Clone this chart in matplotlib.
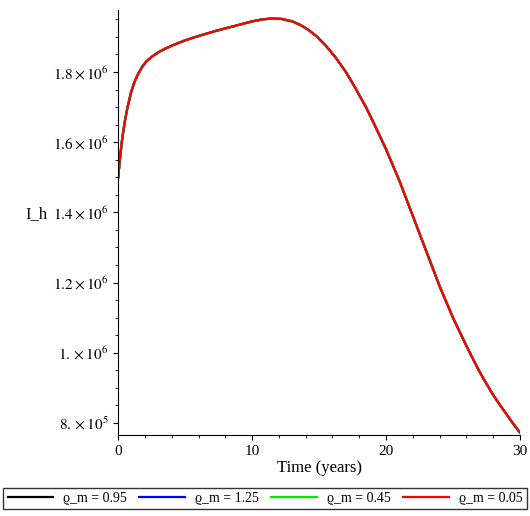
import matplotlib
matplotlib.use("Agg")
import matplotlib.pyplot as plt
from matplotlib.ticker import FixedLocator, AutoMinorLocator

# curve (all four runs lie on top of each other)
time_years = [0, 0.15, 0.3, 0.5, 0.7, 0.95, 1.2, 1.5, 1.8, 2.1, 2.5, 3.0, 3.5, 4.2, 5, 5.8, 6.5, 7.2, 8, 9, 10, 10.8, 11.5, 12.2, 13, 13.6, 14.2, 14.8,
              15.5, 16.2, 17, 17.7, 18.5, 19.2, 20, 20.5, 21, 21.5, 22, 22.5, 23, 23.5, 24, 24.5, 25, 25.5, 26, 26.5, 27, 27.5, 28, 28.5, 29, 29.5, 30]
infected = [1.50e6, 1.56e6, 1.61e6, 1.66e6, 1.70e6, 1.74e6, 1.77e6, 1.795e6, 1.815e6, 1.83e6, 1.843e6, 1.856e6, 1.866e6, 1.878e6, 1.89e6, 1.90e6,
            1.908e6, 1.916e6, 1.924e6, 1.934e6, 1.944e6, 1.950e6, 1.952e6, 1.951e6, 1.944e6, 1.934e6, 1.92e6, 1.902e6,
            1.875e6, 1.843e6, 1.80e6, 1.755e6, 1.70e6, 1.645e6, 1.58e6, 1.535e6, 1.49e6, 1.44e6, 1.39e6, 1.34e6, 1.29e6, 1.24e6, 1.19e6, 1.145e6,
            1.10e6, 1.06e6, 1.02e6, 9.82e5, 9.45e5, 9.12e5, 8.80e5, 8.52e5, 8.25e5, 7.98e5, 7.73e5]
rho_values = ["0.95", "1.25", "0.45", "0.05"]
line_colors = ["black", "blue", "#00ee00", "red"]
y_ticks = [8e5, 1e6, 1.2e6, 1.4e6, 1.6e6, 1.8e6]
y_tick_labels = [r"$8.\times10^{5}$", r"$1.\times10^{6}$", r"$1.2\times10^{6}$",
                 r"$1.4\times10^{6}$", r"$1.6\times10^{6}$", r"$1.8\times10^{6}$"]

plt.rcParams["font.family"] = ["Liberation Serif", "DejaVu Serif"]
plt.rcParams["mathtext.fontset"] = "stix"

fig = plt.figure(figsize=(5.30, 5.16), dpi=100)
axis = fig.add_axes([0.223, 0.157, 0.758, 0.824])

for rho, color in zip(rho_values, line_colors):
    axis.plot(time_years, infected, color=color, lw=1.6, label=f"ϱ_m = {rho}")

axis.set_xlim(0, 30)
axis.set_ylim(7.66e5, 1.977e6)
axis.set_xticks([0, 10, 20, 30])
axis.yaxis.set_major_locator(FixedLocator(y_ticks))
axis.set_yticklabels(y_tick_labels)
axis.xaxis.set_minor_locator(AutoMinorLocator(5))
axis.yaxis.set_minor_locator(AutoMinorLocator(4))
axis.tick_params(labelsize=11)
for side in ["top", "right"]:
    axis.spines[side].set_visible(False)
axis.set_xlabel("Time (years)", fontsize=12, labelpad=2)
axis.set_ylabel("I_h", fontsize=12, rotation=0, labelpad=12)

fig.legend(loc="lower center", ncol=4, bbox_to_anchor=(0.5, 0.0), frameon=True,
           fancybox=False, edgecolor="black", fontsize=10, handlelength=3.3,
           columnspacing=0.9, handletextpad=0.7, borderpad=0.3)

fig.savefig("out.png", dpi=100)
